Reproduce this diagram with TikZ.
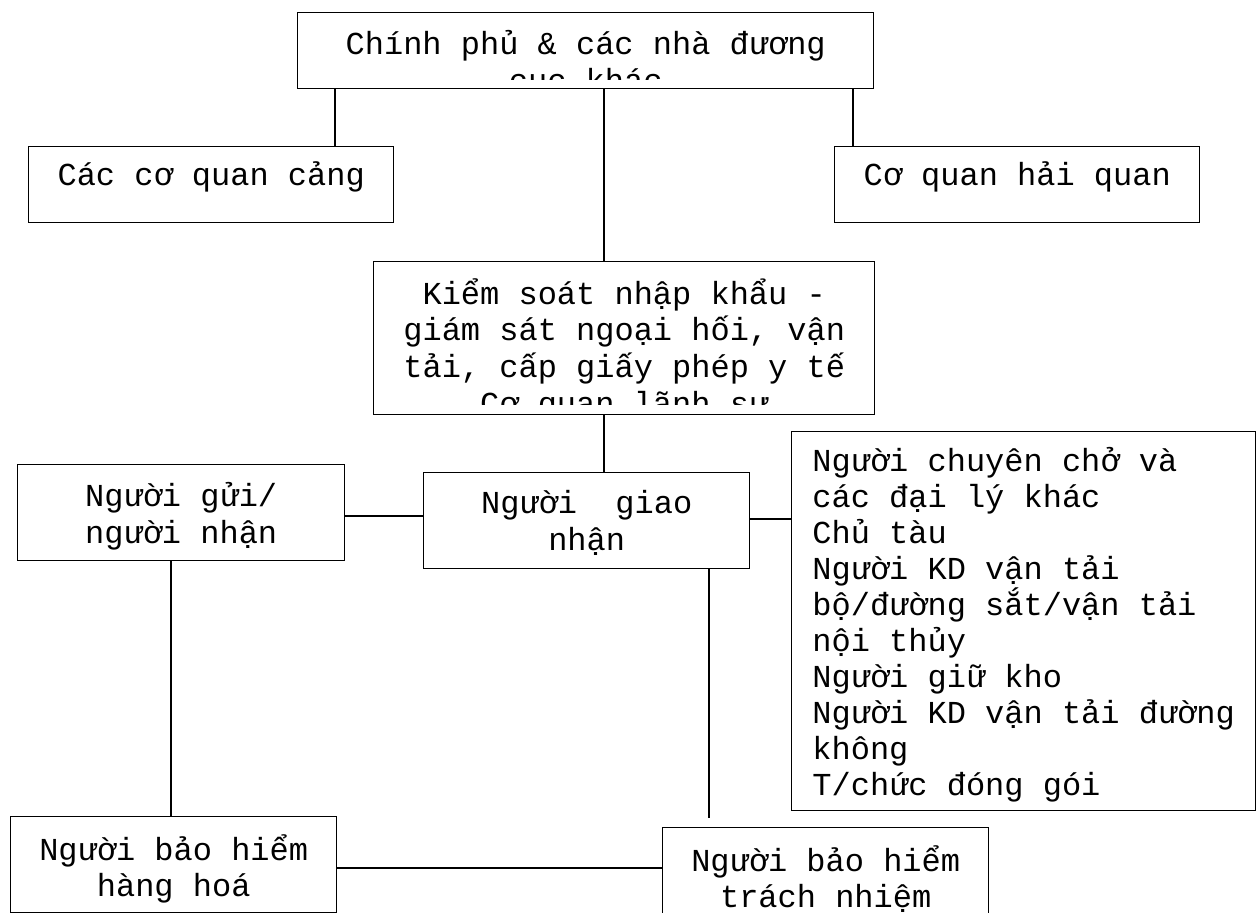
\documentclass[tikz,border=0pt]{standalone}
\usepackage{fontspec}
\setmonofont{Liberation Mono}
\usetikzlibrary{positioning}

\begin{document}
\begin{tikzpicture}[x=0.5pt, y=-0.5pt,
  box/.style={draw, line width=0.7pt, inner sep=0pt, anchor=north west},
  txt/.style={font=\ttfamily\fontsize{16}{18.3}\selectfont, align=center, inner sep=0pt,
    execute at begin node={\rule{0pt}{15pt}}},
  link/.style={line width=0.7pt}]
  \useasboundingbox (0,0) rectangle (1260,913);

  % Khung
  \node[box, minimum width=288pt, minimum height=38pt] (gov) at (297,12) {};
  \node[box, minimum width=182.5pt, minimum height=38pt] (port) at (28,146) {};
  \node[box, minimum width=182.5pt, minimum height=38pt] (customs) at (834,146) {};
  \node[box, minimum width=250.5pt, minimum height=76.5pt] (ctrl) at (373,261) {};
  \node[box, minimum width=163.5pt, minimum height=48pt] (shipper) at (17,464) {};
  \node[box, minimum width=163pt, minimum height=48pt] (fwd) at (423,472) {};
  \node[box, minimum width=232pt, minimum height=189.5pt] (carriers) at (791,431) {};
  \node[box, minimum width=163pt, minimum height=48pt] (cargoins) at (10,816) {};
  \node[box, minimum width=163pt, minimum height=48pt] (liabins) at (662,827) {};

  % Chữ trong khung (cắt phần tràn)
  \begin{scope}
    \clip (gov.north west) rectangle ([yshift=5pt]gov.south east);
    \node[txt, below=9pt of gov.north] (govtxt)
      {Chính phủ \& các nhà đương\\cục khác};
  \end{scope}
  \begin{scope}
    \clip (ctrl.north west) rectangle ([yshift=5.5pt]ctrl.south east);
    \node[txt, below=8.5pt of ctrl.north] (ctrltxt)
      {Kiểm soát nhập khẩu -\\giám sát ngoại hối, vận\\tải, cấp giấy phép y tế\\Cơ quan lãnh sự};
  \end{scope}
  \node[txt, below=4.5pt of port.north] (porttxt) {Các cơ quan cảng};
  \node[txt, below=4.5pt of customs.north] (customstxt) {Cơ quan hải quan};
  \node[txt, below=9pt of shipper.north] (shippertxt) {Người gửi/\\người nhận};
  \node[txt, below=9pt of fwd.north] (fwdtxt) {Người~ giao\\nhận};
  \node[txt, align=left, font=\ttfamily\fontsize{16}{18}\selectfont,
    below right=8pt and 10.5pt of carriers.north west] (carrierstxt)
    {Người chuyên chở và\\các đại lý khác\\Chủ tàu\\Người KD vận tải\\bộ/đường sắt/vận tải\\nội thủy\\Người giữ kho\\Người KD vận tải đường\\không\\T/chức đóng gói};
  \node[txt, below=9pt of cargoins.north] (cargotxt) {Người bảo hiểm\\hàng hoá};
  \node[txt, below=9pt of liabins.north] (liabtxt) {Người bảo hiểm\\trách nhiệm};

  % Đường nối dọc
  \foreach \a/\b/\x in {gov/port/335, gov/customs/853, gov/ctrl/604, ctrl/fwd/604,
                        shipper/cargoins/171}
    \draw[link] (\a.south -| \x,0) -- (\b.north -| \x,0);
  \draw[link, shorten >=4.5pt] (fwd.south -| 709,0) -- (liabins.north -| 709,0);

  % Đường nối ngang
  \foreach \a/\b/\y in {shipper/fwd/516, fwd/carriers/519, cargoins/liabins/868}
    \draw[link] (\a.east |- 0,\y) -- (\b.west |- 0,\y);
\end{tikzpicture}
\end{document}
